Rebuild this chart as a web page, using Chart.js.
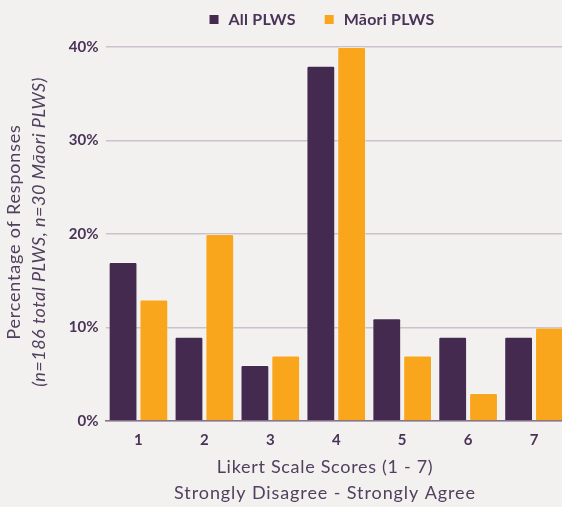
<!DOCTYPE html>
<html>
<head>
<meta charset="utf-8">
<script src="https://cdn.jsdelivr.net/npm/chart.js@4/dist/chart.umd.min.js"></script>
<style>
  html, body { margin: 0; padding: 0; background: #f3f1ef; overflow: hidden; }
  #wrap { width: 570px; height: 507px; }
</style>
</head>
<body>
<div id="wrap"><canvas id="c" width="570" height="507"></canvas></div>
<script>
// Likert responses, percentage of respondents per score
const categories = ['1', '2', '3', '4', '5', '6', '7'];
const allPlws = [17, 9, 6, 38, 11, 9, 9];
const maoriPlws = [13, 20, 7, 40, 7, 3, 10];
const seriesNames = ['All PLWS', 'Māori PLWS'];
const yTicks = [0, 10, 20, 30, 40];
const xTitleLines = ['Likert Scale Scores (1 - 7)', 'Strongly Disagree - Strongly Agree'];
const yTitleMain = 'Percentage of Responses';
const yTitleNote = '(n=186 total PLWS, n=30 Māori PLWS)';

const PURPLE = '#452a50';
const ORANGE = '#f9a61c';
const TEXT = '#4a3358';
const TITLE = '#51405e';
const FONT = 'Lato, "Noto Sans", sans-serif';

// Legend and two-line axis titles drawn straight onto the canvas
const decorations = {
  id: 'decorations',
  afterDraw(chart) {
    const ctx = chart.ctx;
    const area = chart.chartArea;
    ctx.save();

    // legend
    ctx.font = 'bold 16px ' + FONT;
    ctx.letterSpacing = '0.2px';
    ctx.textBaseline = 'middle';
    ctx.textAlign = 'left';
    const box = 9, boxGap = 10, itemGap = 29;
    const items = chart.data.datasets.map(ds => ({
      label: ds.label, color: ds.backgroundColor,
      w: box + boxGap + ctx.measureText(ds.label).width
    }));
    const total = items.reduce((s, it) => s + it.w, 0) + itemGap * (items.length - 1);
    let x = 322 - total / 2;
    const ly = 20;
    items.forEach(it => {
      ctx.fillStyle = it.color;
      ctx.fillRect(x, ly - box / 2 - 0.5, box, box);
      ctx.fillStyle = TEXT;
      ctx.fillText(it.label, x + box + boxGap, ly);
      x += it.w + itemGap;
    });

    // x axis title
    ctx.textAlign = 'center';
    ctx.font = '18px ' + FONT;
    ctx.fillStyle = TITLE;
    ctx.letterSpacing = '0.7px';
    ctx.fillText(xTitleLines[0], 325, 467);
    ctx.letterSpacing = '0.9px';
    ctx.fillText(xTitleLines[1], 325, 493);

    // y axis title
    const cy = (area.top + area.bottom) / 2 - 2;
    ctx.save();
    ctx.translate(14, cy);
    ctx.rotate(-Math.PI / 2);
    ctx.font = '18px ' + FONT;
    ctx.letterSpacing = '0.8px';
    ctx.fillText(yTitleMain, 0, 0);
    ctx.restore();
    ctx.save();
    ctx.translate(39, cy);
    ctx.rotate(-Math.PI / 2);
    ctx.font = 'italic 18px ' + FONT;
    ctx.letterSpacing = '0.5px';
    ctx.fillText(yTitleNote, 0, 0);
    ctx.restore();

    ctx.restore();
  }
};

const barStyle = {
  borderWidth: 1,
  borderColor: 'rgba(255,255,255,0.28)',
  borderSkipped: 'bottom',
  borderRadius: { topLeft: 2, topRight: 2, bottomLeft: 0, bottomRight: 0 },
  barPercentage: 0.935,
  categoryPercentage: 0.935
};

new Chart(document.getElementById('c'), {
  type: 'bar',
  data: {
    labels: categories,
    datasets: [
      Object.assign({ label: seriesNames[0], data: allPlws, backgroundColor: PURPLE }, barStyle),
      Object.assign({ label: seriesNames[1], data: maoriPlws, backgroundColor: ORANGE }, barStyle)
    ]
  },
  options: {
    responsive: false,
    animation: false,
    devicePixelRatio: 1,
    layout: { padding: { top: 47, right: 3, bottom: 0, left: 0 } },
    plugins: {
      legend: { display: false },
      tooltip: { enabled: false }
    },
    scales: {
      x: {
        afterFit(scale) { scale.height = 86; },
        grid: { display: false, drawTicks: false },
        border: { display: true, color: '#85738b', width: 1.5 },
        ticks: { color: TEXT, font: { family: FONT, size: 15, weight: 'bold' }, padding: 10 }
      },
      y: {
        min: 0,
        max: 40,
        afterFit(scale) { scale.width = 105.5; },
        afterBuildTicks(scale) { scale.ticks = yTicks.map(v => ({ value: v })); },
        grid: { color: '#cbc1cc', lineWidth: 1.5, drawTicks: false },
        border: { display: false },
        ticks: {
          color: TEXT,
          font: { family: FONT, size: 15, weight: 'bold' },
          padding: 7,
          callback: v => v + '%'
        }
      }
    }
  },
  plugins: [decorations]
});
</script>
</body>
</html>
